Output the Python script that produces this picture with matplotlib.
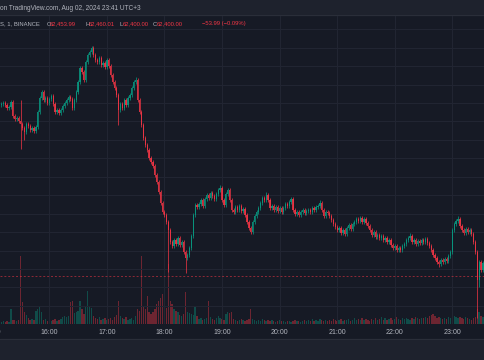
import numpy as np
import matplotlib
matplotlib.use("Agg")
import matplotlib.pyplot as plt
from matplotlib.transforms import blended_transform_factory

# BTCUSDT, Binance, 2-minute candles (15:10 .. 23:34, UTC+3)
first_open = 64720
closes = [
    64735, 64750, 64720, 64680, 64695, 64765, 64575, 64535, 64545, 64505,  # 15:10
    64465, 64410, 64355, 64465, 64440, 64385, 64410, 64370, 64425, 64630,  # 15:30
    64815, 64900, 64790, 64815, 64750, 64805, 64845, 64735, 64630, 64655,  # 15:50
    64615, 64655, 64710, 64750, 64790, 64830, 64805, 64680, 64790, 64900,  # 16:10
    65035, 65225, 65170, 65060, 65305, 65400, 65440, 65495, 65400, 65330,  # 16:30
    65305, 65360, 65265, 65290, 65240, 65330, 65250, 65130, 65035, 64955,  # 16:50
    64860, 64655, 64735, 64680, 64790, 64720, 64815, 64860, 64955, 65035,  # 17:10
    65060, 64790, 64630, 64450, 64275, 64180, 64115, 64005, 63950, 63895,  # 17:30
    63775, 63680, 63545, 63395, 63275, 63230, 63135, 63030, 62865, 62810,  # 17:50
    62895, 62840, 62920, 62825, 62865, 62730, 62650, 62690, 62785, 62945,  # 18:10
    63230, 63370, 63340, 63380, 63435, 63355, 63450, 63505, 63460, 63530,  # 18:30
    63490, 63450, 63515, 63570, 63600, 63435, 63370, 63515, 63570, 63435,  # 18:50
    63300, 63275, 63340, 63300, 63355, 63285, 63315, 63230, 63135, 63055,  # 19:10
    63000, 63135, 63220, 63275, 63325, 63395, 63460, 63435, 63505, 63435,  # 19:30
    63325, 63355, 63300, 63340, 63285, 63325, 63275, 63325, 63380, 63355,  # 19:50
    63410, 63450, 63300, 63245, 63275, 63230, 63275, 63300, 63260, 63285,  # 20:10
    63300, 63275, 63325, 63300, 63340, 63355, 63395, 63300, 63220, 63275,  # 20:30
    63260, 63220, 63165, 63110, 63070, 63030, 63055, 62990, 63030, 62975,  # 20:50
    63055, 63095, 63040, 63110, 63135, 63180, 63150, 63190, 63135, 63180,  # 21:10
    63125, 63085, 63030, 62960, 63000, 62935, 62960, 62920, 62945, 62895,  # 21:30
    62920, 62865, 62895, 62825, 62785, 62810, 62760, 62785, 62760, 62810,  # 21:50
    62840, 62895, 62920, 62945, 62865, 62895, 62840, 62880, 62850, 62895,  # 22:10
    62865, 62905, 62850, 62810, 62760, 62690, 62650, 62595, 62570, 62620,  # 22:30
    62595, 62635, 62610, 62675, 62730, 63030, 63110, 63150, 63175, 63085,  # 22:50
    63030, 62990, 63040, 63000, 63030, 62975, 62865, 62730, 62350, 62595,  # 23:10
    62485, 62580, 62460,                                                   # 23:30
]
volumes = [
    40, 60, 40, 60, 40, 300, 80, 80, 60, 80,
    1360, 440, 240, 180, 120, 80, 100, 80, 260, 300,
    340, 240, 80, 100, 60, 80, 60, 80, 100, 60,
    80, 100, 140, 160, 140, 160, 440, 460, 220, 240,
    260, 460, 300, 200, 340, 660, 340, 320, 160, 120,
    100, 140, 80, 100, 120, 80, 100, 120, 80, 140,
    180, 460, 160, 120, 100, 140, 80, 100, 120, 80,
    160, 300, 260, 1360, 360, 300, 560, 240, 200, 240,
    300, 400, 460, 520, 600, 360, 320, 1200, 460, 400,
    300, 260, 240, 180, 160, 200, 640, 240, 220, 200,
    180, 340, 160, 100, 120, 80, 100, 120, 460, 140,
    100, 80, 120, 160, 120, 100, 80, 200, 240, 220,
    240, 100, 80, 60, 80, 100, 80, 60, 80, 100,
    300, 100, 80, 60, 80, 60, 100, 80, 60, 80,
    60, 80, 60, 40, 60, 80, 60, 60, 40, 60,
    60, 40, 60, 80, 60, 60, 40, 60, 80, 60,
    80, 60, 100, 60, 80, 60, 100, 80, 60, 80,
    60, 80, 60, 100, 80, 60, 80, 100, 60, 80,
    80, 100, 60, 80, 120, 80, 100, 80, 120, 80,
    100, 80, 60, 100, 80, 120, 80, 100, 140, 80,
    120, 80, 100, 120, 80, 100, 140, 100, 80, 120,
    100, 120, 100, 80, 120, 100, 140, 120, 100, 120,
    120, 140, 120, 160, 180, 200, 160, 120, 140, 120,
    100, 120, 100, 140, 120, 400, 160, 140, 120, 140,
    120, 100, 140, 120, 100, 80, 120, 140, 300, 240,
    160, 140, 120,
]
# long wicks
spike_highs = {"15:30": 64790, "16:44": 65520, "17:30": 65100, "18:58": 63640,
               "19:46": 63545, "20:12": 63475, "20:42": 63435, "22:16": 62990,
               "23:06": 63220}
spike_lows = {"15:30": 64125, "15:34": 64250, "17:12": 64450, "18:04": 62460,
              "18:22": 62445, "22:46": 62525, "23:26": 61835, "23:28": 62255}
hour_labels = ["15:00", "16:00", "17:00", "18:00", "19:00", "20:00", "21:00", "22:00", "23:00"]
last_price = 62400

bg = "#161a25"
up_col = "#089981"
dn_col = "#f23645"
txt_col = "#b2b5be"
plt.rcParams['font.family'] = ['Liberation Sans', 'DejaVu Sans']

closes = np.array(closes, dtype=float)
opens = np.concatenate([[first_open], closes[:-1]])
t = 15 * 60 + 10 + 2 * np.arange(len(closes))  # minutes since midnight


def hm(m):
    return "%02d:%02d" % (m // 60, m % 60)


highs = np.maximum(opens, closes) + 25
lows = np.minimum(opens, closes) - 25
for i, m in enumerate(t):
    if hm(m) in spike_highs:
        highs[i] = max(highs[i], spike_highs[hm(m)])
    if hm(m) in spike_lows:
        lows[i] = min(lows[i], spike_lows[hm(m)])

up = closes >= opens
cols = np.where(up, up_col, dn_col)

fig = plt.figure(figsize=(4.85, 3.6), dpi=100, facecolor=bg)
ax = fig.add_axes([0, 36 / 360, 1, 309 / 360])
axv = ax.twinx()
ax.set_zorder(axv.get_zorder() + 1)
ax.patch.set_visible(False)
axv.patch.set_facecolor(bg)

# volume
axv.bar(t, volumes, width=1.4, color=cols, alpha=0.4, linewidth=0)
axv.set_ylim(0, max(volumes) * 309 / 68)

# candles
ax.vlines(t, lows, highs, colors=cols, linewidth=0.6, alpha=0.85)
ax.bar(t, np.maximum(np.abs(closes - opens), 8), bottom=np.minimum(opens, closes),
       width=1.3, color=cols, linewidth=0, alpha=0.85)
ax.axhline(last_price, color=dn_col, linewidth=0.7, linestyle=(0, (2, 2)), alpha=0.55)

hours = np.arange(15, 24) * 60
ax.set_xticks(hours)
ax.set_yticks(np.arange(61750, 66000, 250))
ax.grid(True, color="#222633", linewidth=0.7)
ax.set_axisbelow(True)
ax.set_xlim(908.6, 1414.1)
ax.set_ylim(61755, 65942)
for a in (ax, axv):
    a.tick_params(length=0, labelbottom=False, labelleft=False, labelright=False)
    for s in a.spines.values():
        s.set_visible(False)
axv.set_yticks([])

tr = blended_transform_factory(ax.transData, ax.transAxes)
for h, lab in zip(hours, hour_labels):
    ax.text(h, -8 / 309, lab, transform=tr, ha="center", va="center",
            fontsize=5, color=txt_col, clip_on=False)

# header band and bottom band
fig.patches.append(plt.Rectangle((0, 345 / 360), 1, 15 / 360, transform=fig.transFigure,
                                 color="#1e222d", zorder=0))
fig.patches.append(plt.Rectangle((0, 0), 1, 21 / 360, transform=fig.transFigure,
                                 color="#1e222d", zorder=0))
fig.lines.append(plt.Line2D([0, 1], [345 / 360, 345 / 360], transform=fig.transFigure,
                            color="#2a2e39", linewidth=0.8))
fig.lines.append(plt.Line2D([0, 1], [21 / 360, 21 / 360], transform=fig.transFigure,
                            color="#2a2e39", linewidth=0.8))

fig.text(0 / 485, 1 - 8 / 360, "on TradingView.com, Aug 02, 2024 23:41 UTC+3",
         fontsize=4.7, color=txt_col, va="center", ha="left")

legend_parts = [
    (0, "S, 1, BINANCE", txt_col), (47, "O", txt_col), (50, "62,453.99", dn_col),
    (86, "H", txt_col), (89, "62,460.01", dn_col), (120, "L", txt_col),
    (123, "62,400.00", dn_col), (153, "C", txt_col), (157, "62,400.00", dn_col),
    (202, "\u221253.99 (\u22120.09%)", dn_col),
]
for px, s, c in legend_parts:
    fig.text(px / 485, 1 - 24 / 360, s, fontsize=4.2, color=c, va="center", ha="left")

fig.savefig("out.png", dpi=100, facecolor=bg)
